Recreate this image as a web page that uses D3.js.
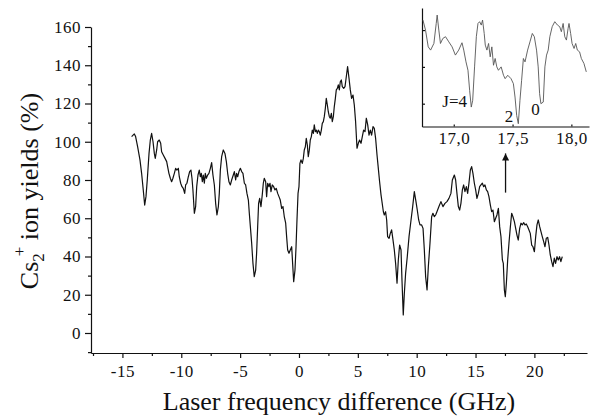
<!DOCTYPE html>
<html>
<head>
<meta charset="utf-8">
<script src="https://cdn.jsdelivr.net/npm/d3@7"></script>
<style>
body { margin: 0; background: #fff; }
svg text { font-family: "Liberation Serif", "Times New Roman", serif; fill: #111; }
.tick text { font-size: 17px; letter-spacing: 0.5px; }
.axis path, .axis line { stroke: #111; stroke-width: 1.2; }
</style>
</head>
<body>
<svg id="chart" width="590" height="419"></svg>
<script>
// main scan: laser frequency difference (GHz) vs Cs2+ ion yield (%)
var freq = [
  -14.22, -13.99, -13.88, -13.71, -13.51, -13.37, -13.23, -13.11, -13.00, -12.89,
  -12.74, -12.63, -12.52, -12.40, -12.29, -12.21, -12.09, -12.01, -11.87, -11.75,
  -11.67, -11.53, -11.38, -11.24, -11.16, -11.05, -10.93, -10.82, -10.71, -10.59,
  -10.48, -10.37, -10.25, -10.17, -10.05, -9.94, -9.83, -9.71, -9.63, -9.52,
  -9.40, -9.29, -9.18, -9.09, -9.01, -8.89, -8.78, -8.69, -8.58, -8.47,
  -8.38, -8.30, -8.21, -8.13, -8.04, -7.96, -7.87, -7.76, -7.65, -7.53,
  -7.42, -7.31, -7.19, -7.08, -6.97, -6.85, -6.77, -6.68, -6.57, -6.43,
  -6.29, -6.17, -6.06, -5.95, -5.83, -5.72, -5.58, -5.49,
  -5.38, -5.30, -5.21, -5.10, -4.98, -4.87, -4.76, -4.64, -4.53, -4.42,
  -4.30, -4.22, -4.13, -4.02, -3.91, -3.80, -3.68, -3.60, -3.51, -3.43,
  -3.34, -3.23, -3.12, -3.03, -2.95, -2.83, -2.75, -2.66, -2.55, -2.46,
  -2.38, -2.27, -2.15, -2.04, -1.93, -1.81, -1.70, -1.59, -1.47, -1.36,
  -1.25, -1.13, -1.05, -0.96, -0.85, -0.74, -0.62, -0.54, -0.45, -0.34,
  -0.25, -0.17, -0.08, 0.00, 0.08, 0.17, 0.28, 0.37, 0.45, 0.54,
  0.62, 0.71, 0.79, 0.88, 0.96, 1.05, 1.13, 1.22, 1.30, 1.39,
  1.47, 1.56, 1.64, 1.73, 1.81, 1.90, 1.98, 2.07, 2.15, 2.24,
  2.32, 2.41, 2.49, 2.58, 2.66, 2.75, 2.83, 2.92, 3.00, 3.09,
  3.17, 3.26, 3.34, 3.43, 3.51, 3.60, 3.68, 3.80, 3.91,
  4.02, 4.13, 4.25, 4.36, 4.47, 4.59, 4.70, 4.81, 4.93, 5.04,
  5.15, 5.27, 5.38, 5.49, 5.61, 5.72, 5.84, 5.95, 6.06, 6.17,
  6.29, 6.40, 6.51, 6.63, 6.74, 6.85, 6.97,
  7.17, 7.25, 7.36, 7.45, 7.53, 7.65, 7.76, 7.87, 7.99, 8.10,
  8.21, 8.33, 8.44, 8.55, 8.67, 8.75, 8.86, 8.95, 9.06, 9.20,
  9.35, 9.52, 9.66, 9.80, 9.94, 10.05, 10.17, 10.28, 10.42, 10.54,
  10.65, 10.76, 10.88, 10.99, 11.13, 11.27, 11.38, 11.50, 11.61, 11.72,
  11.89, 12.06, 12.23, 12.40, 12.57, 12.74, 12.91, 13.03, 13.14,
  13.20, 13.31, 13.42, 13.54, 13.65, 13.76, 13.88, 13.99, 14.10, 14.22,
  14.33, 14.44, 14.56, 14.67, 14.78, 14.90, 15.01, 15.12, 15.24, 15.35,
  15.46, 15.58, 15.69, 15.80, 15.92, 16.03, 16.14, 16.26, 16.37, 16.48,
  16.60, 16.71, 16.82, 16.94, 17.05, 17.16, 17.28, 17.36, 17.45, 17.53,
  17.62, 17.73, 17.84, 17.96, 18.07, 18.18, 18.30, 18.41, 18.52, 18.63,
  18.75, 18.86, 18.97, 19.09, 19.20, 19.31, 19.43, 19.54, 19.65, 19.77,
  19.88, 20.00, 20.11, 20.22, 20.33, 20.45, 20.56, 20.67, 20.79, 20.90,
  21.01, 21.13, 21.24, 21.35, 21.47, 21.58, 21.69, 21.80, 21.92, 22.03,
  22.14, 22.25, 22.37
];
var yieldPct = [
  102.7, 104.1, 102.7, 97.4, 90.5, 83.5, 74.8, 66.9, 71.3, 80.0,
  93.9, 100.9, 104.4, 100.0, 93.9, 91.3, 95.7, 100.0, 100.9, 99.2,
  94.8, 93.1, 91.3, 89.6, 87.0, 83.5, 80.9, 79.1, 80.9, 83.5,
  86.1, 85.2, 86.1, 81.7, 78.3, 76.5, 75.6, 73.0, 77.4, 78.3,
  81.7, 84.4, 85.2, 80.9, 74.8, 62.6, 66.1, 76.5, 82.6, 85.2,
  81.7, 83.5, 79.1, 82.6, 78.3, 83.5, 80.9, 82.6, 83.5, 86.1,
  89.1, 82.6, 77.4, 67.8, 61.7, 66.1, 73.0, 85.2, 92.2, 95.7,
  93.9, 89.6, 83.5, 79.1, 77.4, 80.0, 82.6, 84.4,
  80.0, 83.5, 81.7, 84.4, 86.1, 84.4, 83.5, 78.3, 77.4, 73.0,
  69.5, 62.6, 55.6, 46.9, 36.4, 29.5, 32.9, 41.7, 55.6, 67.8,
  70.4, 66.1, 72.2, 78.3, 80.9, 79.1, 71.3, 78.3, 76.5, 78.3,
  73.9, 77.4, 76.5, 74.8, 75.6, 73.0, 71.3, 69.5, 65.2, 66.1,
  60.9, 57.4, 50.4, 43.4, 41.7, 43.4, 45.1, 36.4, 26.8, 32.9,
  45.1, 59.1, 73.0, 76.5, 88.7, 90.5, 88.7, 91.3, 95.7, 97.4,
  101.8, 98.3, 92.2, 95.7, 100.9, 102.7, 106.1, 104.4, 108.8, 105.3,
  106.1, 104.4, 106.1, 105.3, 103.5, 106.1, 109.6, 110.5, 113.1, 117.5,
  122.7, 119.2, 115.7, 113.1, 112.3, 114.9, 110.5, 113.1, 118.4, 122.7,
  127.1, 127.9, 129.7, 127.1, 131.4, 132.3, 128.8, 127.9, 128.8,
  134.0, 139.3, 133.2, 127.1, 122.7, 124.4, 119.2, 110.5, 96.6, 99.2,
  100.9, 99.2, 102.7, 106.1, 105.3, 112.3, 108.8, 103.5, 106.1, 103.5,
  107.9, 107.0, 101.8, 93.1, 86.1, 79.1, 72.2,
  63.4, 61.7, 63.4, 59.1, 50.4, 49.5, 52.1, 53.9, 48.6, 43.4,
  36.4, 26.0, 38.2, 46.0, 43.4, 27.7, 9.4, 20.7, 31.2, 39.9,
  50.4, 59.1, 66.1, 73.9, 68.7, 64.3, 59.1, 56.5, 56.5, 54.7,
  43.4, 29.5, 22.5, 34.7, 46.9, 60.8, 62.6, 60.8, 61.7, 63.4,
  66.1, 68.7, 66.1, 67.8, 68.7, 70.4, 73.0, 80.0, 81.7,
  82.6, 80.0, 73.0, 66.1, 64.3, 67.8, 74.8, 77.4, 73.9, 76.5,
  73.0, 78.3, 85.2, 87.0, 83.5, 78.3, 74.8, 70.4, 73.0, 76.5,
  77.4, 78.3, 76.5, 77.4, 74.8, 73.9, 71.3, 66.9, 63.4, 64.3,
  58.2, 60.0, 61.7, 65.2, 55.6, 50.4, 38.2, 36.4, 22.5, 19.0,
  26.0, 38.2, 46.9, 55.6, 62.6, 60.8, 58.2, 54.7, 51.2, 48.6,
  54.7, 57.4, 56.5, 57.7, 56.5, 57.0, 55.6, 53.9, 52.1, 46.0,
  45.1, 42.5, 50.4, 56.5, 59.1, 55.6, 53.0, 50.4, 47.8, 45.1,
  49.5, 50.0, 46.0, 40.8, 37.3, 34.7, 39.1, 36.4, 39.9, 38.2,
  39.9, 37.3, 39.9
];

// inset: zoom on 16.7 - 18.2 GHz (arbitrary units)
var insetFreq = [
  16.738, 16.760, 16.783, 16.803, 16.831, 16.851, 16.859, 16.873, 16.887, 16.907,
  16.930, 16.958, 16.986, 17.014, 17.042, 17.070, 17.085, 17.104, 17.121, 17.135,
  17.149, 17.161, 17.177, 17.192, 17.206, 17.220, 17.234, 17.245, 17.259, 17.268,
  17.282, 17.296, 17.310, 17.324, 17.338, 17.352, 17.366, 17.380, 17.403, 17.423,
  17.437, 17.459, 17.487, 17.507, 17.521, 17.535, 17.549, 17.563, 17.577, 17.592,
  17.606, 17.628, 17.648, 17.668, 17.685, 17.704, 17.718, 17.730, 17.741, 17.761,
  17.775, 17.789, 17.803, 17.817, 17.837, 17.859, 17.882, 17.901, 17.915, 17.930,
  17.944, 17.958, 17.972, 17.980, 17.994, 18.006, 18.023, 18.037, 18.051, 18.070,
  18.085, 18.107, 18.127
];
var insetSignal = [
  81.8, 75.0, 63.6, 61.4, 65.9, 79.5, 85.2, 75.0, 65.9, 69.3,
  70.5, 67.0, 63.6, 58.0, 61.4, 66.4, 61.4, 53.4, 47.7, 34.1,
  22.7, 27.3, 50.0, 70.5, 79.5, 80.7, 78.4, 81.8, 72.7, 64.8,
  61.4, 65.9, 56.8, 63.6, 51.1, 55.7, 50.0, 47.7, 50.0, 44.3,
  42.0, 44.3, 42.0, 38.6, 29.5, 17.0, 11.4, 27.3, 40.9, 55.7,
  53.4, 61.4, 67.0, 72.7, 70.5, 61.4, 50.0, 31.8, 25.0, 26.1,
  50.0, 58.0, 61.4, 70.5, 77.3, 80.7, 78.4, 77.3, 73.9, 79.5,
  70.5, 68.2, 76.1, 79.5, 72.7, 65.9, 62.5, 65.9, 61.4, 60.2,
  55.7, 52.3, 46.6
];

var xMajor = [-15, -10, -5, 0, 5, 10, 15, 20];
var xMinor = [-17.5, -12.5, -7.5, -2.5, 2.5, 7.5, 12.5, 17.5, 22.5];
var yMajor = [0, 20, 40, 60, 80, 100, 120, 140, 160];
var yMinor = [-10, 10, 30, 50, 70, 90, 110, 130, 150];
var insetXTicks = [17.0, 17.5, 18.0];
var insetYTicks = [25, 50, 75];

var serif = "Liberation Serif";
var svg = d3.select("#chart");

var x = d3.scaleLinear().domain([-17.67, 24.47]).range([91, 587]);
var y = d3.scaleLinear().domain([-10.46, 160]).range([353, 27]);

// axes
svg.append("g")
    .attr("class", "axis")
    .attr("transform", "translate(0,353)")
    .call(d3.axisBottom(x).tickValues(xMajor).tickSize(5).tickSizeOuter(0)
        .tickPadding(7).tickFormat(d => String(d)))
    .attr("font-family", serif).attr("font-size", 17);

svg.append("g")
    .attr("class", "axis")
    .attr("transform", "translate(0,353)")
    .call(d3.axisBottom(x).tickValues(xMinor).tickSize(3).tickFormat(""))
    .select(".domain").remove();

svg.append("g")
    .attr("class", "axis")
    .attr("transform", "translate(91,0)")
    .call(d3.axisLeft(y).tickValues(yMajor).tickSize(6).tickSizeOuter(0)
        .tickPadding(4).tickFormat(d => String(d)))
    .attr("font-family", serif).attr("font-size", 17);

svg.append("g")
    .attr("class", "axis")
    .attr("transform", "translate(91,0)")
    .call(d3.axisLeft(y).tickValues(yMinor).tickSize(3).tickFormat(""))
    .select(".domain").remove();

// axis titles
svg.append("text")
    .attr("x", 339)
    .attr("y", 410)
    .attr("text-anchor", "middle")
    .attr("font-family", serif)
    .style("font-size", "26px")
    .text("Laser frequency difference (GHz)");

var yTitle = svg.append("text")
    .attr("transform", "translate(38,191) rotate(-90)")
    .attr("text-anchor", "middle")
    .attr("font-family", serif)
    .style("font-size", "26px");
yTitle.append("tspan").text("Cs");
yTitle.append("tspan").attr("dy", 6).style("font-size", "17px").text("2");
yTitle.append("tspan").attr("dx", -3).attr("dy", -19).style("font-size", "17px").text("+");
yTitle.append("tspan").attr("dy", 13).text(" ion yields (%)");

// main trace
var line = d3.line()
    .x(i => x(freq[i]))
    .y(i => y(yieldPct[i]));

svg.append("path")
    .datum(d3.range(freq.length))
    .attr("fill", "none")
    .attr("stroke", "#111")
    .attr("stroke-width", 1.2)
    .attr("stroke-linejoin", "round")
    .attr("d", line);

// arrow pointing at the inset region
svg.append("defs").append("marker")
    .attr("id", "head")
    .attr("viewBox", "0 0 10 10")
    .attr("refX", 10).attr("refY", 5)
    .attr("markerWidth", 8).attr("markerHeight", 7)
    .attr("markerUnits", "userSpaceOnUse")
    .attr("orient", "auto")
    .append("path")
    .attr("d", "M0,0L10,5L0,10Z")
    .attr("fill", "#111");

svg.append("line")
    .attr("x1", x(17.55)).attr("x2", x(17.55))
    .attr("y1", y(73.4)).attr("y2", y(93.9))
    .attr("stroke", "#111")
    .attr("stroke-width", 1.3)
    .attr("marker-end", "url(#head)");

// inset
var ix = d3.scaleLinear().domain([16.73, 18.15]).range([422, 589]);
var iy = d3.scaleLinear().domain([9.5, 90]).range([126.5, 8]);

svg.append("g")
    .attr("class", "axis")
    .attr("transform", "translate(0,126.5)")
    .call(d3.axisBottom(ix).tickValues(insetXTicks).tickSize(-2).tickSizeOuter(0)
        .tickPadding(5).tickFormat(d => d3.format(".1f")(d).replace(".", ",")))
    .attr("font-family", serif).attr("font-size", 17);

svg.append("g")
    .attr("class", "axis")
    .attr("transform", "translate(422,0)")
    .call(d3.axisLeft(iy).tickValues(insetYTicks).tickSize(-3).tickSizeOuter(0).tickFormat(""));

var insetLine = d3.line()
    .x(i => ix(insetFreq[i]))
    .y(i => iy(insetSignal[i]));

svg.append("path")
    .datum(d3.range(insetFreq.length))
    .attr("fill", "none")
    .attr("stroke", "#555")
    .attr("stroke-width", 0.9)
    .attr("d", insetLine);

svg.append("text")
    .attr("x", ix(17.113)).attr("y", iy(22.7))
    .attr("text-anchor", "end")
    .attr("font-family", serif)
    .style("font-size", "17px")
    .text("J=4");

svg.append("text")
    .attr("x", ix(17.47)).attr("y", iy(12.5))
    .attr("text-anchor", "middle")
    .attr("font-family", serif)
    .style("font-size", "17px")
    .text("2");

svg.append("text")
    .attr("x", ix(17.696)).attr("y", iy(17.0))
    .attr("text-anchor", "middle")
    .attr("font-family", serif)
    .style("font-size", "17px")
    .text("0");
</script>
</body>
</html>
